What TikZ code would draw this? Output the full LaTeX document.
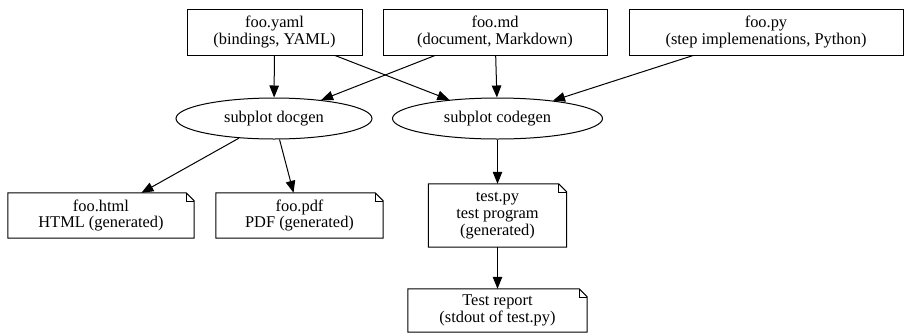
\documentclass[tikz,border=0pt]{standalone}
\usepackage{fontspec}
\setmainfont{Liberation Serif}
\usetikzlibrary{arrows.meta,shapes.geometric}

\begin{document}
\begin{tikzpicture}[
	x=1pt,y=-1pt,
	every node/.style={font=\fontsize{16.4}{16.8}\selectfont, align=center, inner sep=0pt},
	box/.style={
		draw=black,
		rectangle,
		minimum height=46pt,
		line width=1pt
	},
	proc/.style={
		draw=black,
		ellipse,
		minimum height=41pt,
		line width=1pt
	},
	note/.style={
		rectangle,
		minimum height=45pt
	},
	arrow/.style={
		-{Triangle[length=12pt,width=9.5pt]},
		line width=1pt
	}
	]
	\useasboundingbox (0,0) rectangle (904,333);

	% inputs
	\node[box,minimum width=175pt] (yaml) at (274.5,32) {foo.yaml\\(bindings, YAML)};
	\node[box,minimum width=224pt] (md) at (495,32) {foo.md\\(document, Markdown)};
	\node[box,minimum width=274pt] (py) at (766,32) {foo.py\\(step implemenations, Python)};

	% subplot runs
	\node[proc,minimum width=196pt] (docgen) at (274,118.5) {subplot docgen};
	\node[proc,minimum width=210pt] (codegen) at (497.5,118.5) {subplot codegen};

	% outputs
	\node[note,minimum width=186pt] (html) at (101,215.5) {foo.html\\HTML (generated)};
	\node[note,minimum width=167pt] (pdf) at (299.5,215.5) {foo.pdf\\PDF (generated)};
	\node[note,minimum width=138pt,minimum height=63pt] (testpy) at (497.5,215.5)
		{test.py\\test program\\(generated)};
	\node[note,minimum width=179pt,minimum height=43pt] (report) at (497.5,310.5)
		{Test report\\(stdout of test.py)};

	\foreach \n in {html,pdf,testpy,report} {
		\draw[line width=1pt] (\n.south west) -- (\n.north west) -- ([xshift=-8pt]\n.north east)
			-- ([yshift=-8pt]\n.north east) -- (\n.south east) -- cycle;
		\draw[line width=0.6pt] ([xshift=-8pt]\n.north east) |- ([yshift=-8pt]\n.north east);
	}

	\draw[arrow] (yaml) -- (docgen);
	\draw[arrow] (yaml) -- (codegen);
	\draw[arrow] (md) -- (docgen);
	\draw[arrow] (md) -- (codegen);
	\draw[arrow] (py) -- (codegen);
	\draw[arrow] (docgen) -- (html);
	\draw[arrow] (docgen) -- (pdf);
	\draw[arrow] (codegen) -- (testpy);
	\draw[arrow] (testpy) -- (report);
\end{tikzpicture}
\end{document}
